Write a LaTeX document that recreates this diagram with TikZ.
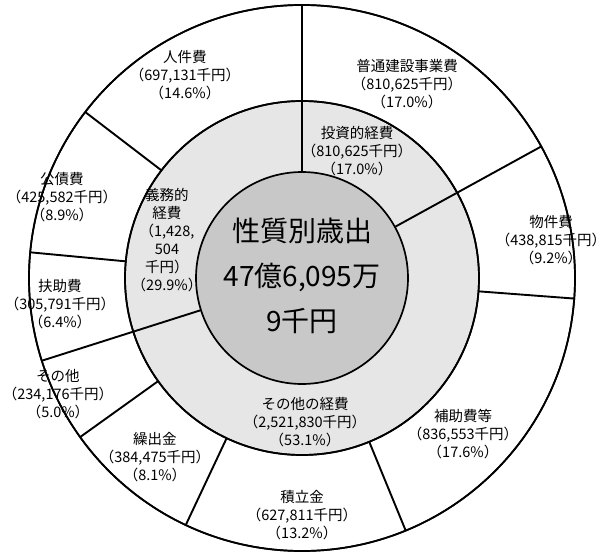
\documentclass[tikz,border=0pt]{standalone}
\usepackage{fontspec}
\setmainfont{Noto Sans CJK JP}
\definecolor{ringgray}{RGB}{230,230,230}
\definecolor{coregray}{RGB}{200,200,200}
\begin{document}
\begin{tikzpicture}[x=1pt,y=1pt,
  circ/.style={draw=black,line width=1.7pt},
  divider/.style={draw=black,line width=1.9pt},
  lbl/.style={align=center,inner sep=0pt,font=\fontsize{14.5}{18}\selectfont},
  big/.style={align=center,inner sep=0pt,font=\fontsize{28}{45}\selectfont}]
\useasboundingbox (-302,-279) rectangle (307,278);
\def\rA{106}\def\rB{177}\def\rC{273}
\path[circ,fill=white] (0,0) circle (\rC);
\path[circ,fill=ringgray] (0,0) circle (\rB);
% dividers through both rings
\foreach \a/\n in {90/t, 28.8/u, -162.36/v}{
  \coordinate (i\n) at (\a:\rA);
  \coordinate (o\n) at (\a:\rC);
  \draw[divider] (i\n) -- (o\n);
}
% dividers of the outer ring only
\foreach \a/\n in {-4.32/a, -67.68/b, -115.2/c, -144.36/d, 174.6/e, 142.56/f}{
  \coordinate (m\n) at (\a:\rB);
  \coordinate (o\n) at (\a:\rC);
  \draw[divider] (m\n) -- (o\n);
}
\path[circ] (0,0) circle (\rB);
\path[circ,fill=coregray] (0,0) circle (\rA);
\path[circ] (0,0) circle (\rC);
% centre
\node[big] (center) at (0,2) {性質別歳出\\47億6,095万\\9千円};
% middle ring
\node[lbl] (toushi) at (55,127) {投資的経費\\（810,625千円）\\（17.0\%）};
\node[lbl] (gimu) at (-135,38) {義務的\\経費\\（1,428,\\504\\千円）\\（29.9\%）};
\node[lbl] (sonota2) at (3,-144) {その他の経費\\（2,521,830千円）\\（53.1\%）};
% outer ring
\node[lbl] (jinken) at (-117,203) {人件費\\（697,131千円）\\（14.6\%）};
\node[lbl] (futsu) at (105,194) {普通建設事業費\\（810,625千円）\\（17.0\%）};
\node[lbl] (kousai) at (-240,81) {公債費\\（425,582千円）\\（8.9\%）};
\node[lbl] (bukken) at (249,38) {物件費\\（438,815千円）\\（9.2\%）};
\node[lbl] (fujo) at (-242,-26) {扶助費\\（305,791千円）\\（6.4\%）};
\node[lbl] (sonota) at (-244,-116) {その他\\（234,176千円）\\（5.0\%）};
\node[lbl] (hojo) at (161,-156) {補助費等\\（836,553千円）\\（17.6\%）};
\node[lbl] (kuri) at (-147,-179) {繰出金\\（384,475千円）\\（8.1\%）};
\node[lbl] (tsumi) at (0,-237) {積立金\\（627,811千円）\\（13.2\%）};
\end{tikzpicture}
\end{document}
